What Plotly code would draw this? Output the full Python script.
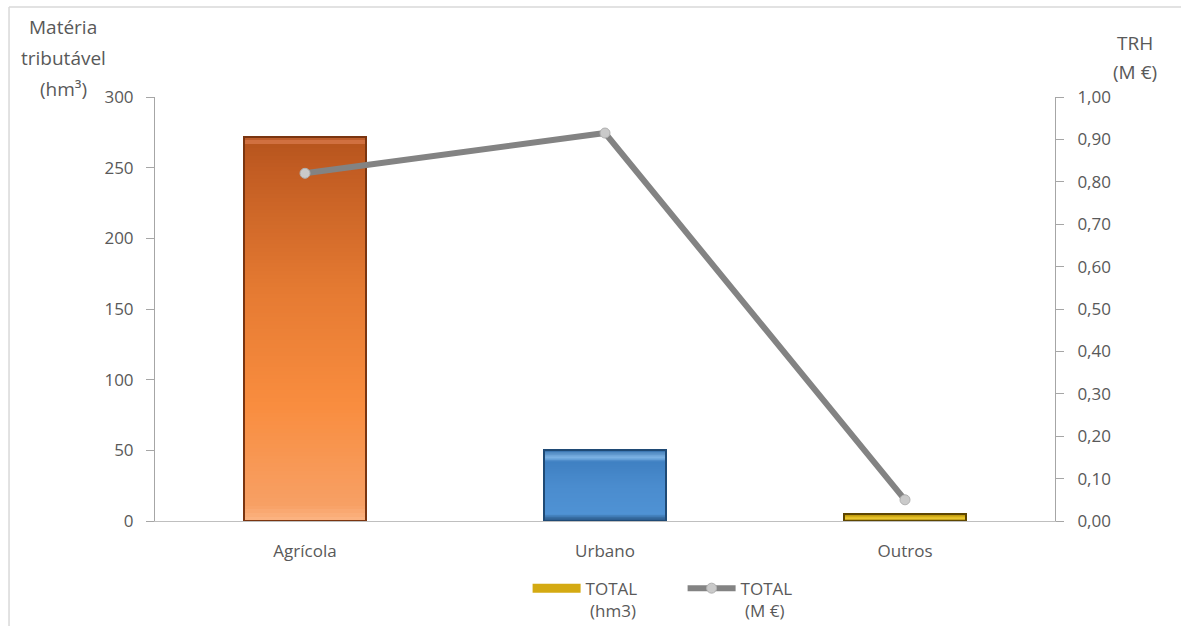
import plotly.graph_objects as go

# Categories and values
categories = ["Agrícola", "Urbano", "Outros"]
materia_hm3 = [272, 50, 5]          # TOTAL (hm3), left axis
trh_meur = [0.82, 0.915, 0.05]      # TOTAL (M €), right axis

# Vertical colour ramps per bar (fraction from base -> colour)
ramps = [
    [(0.0, "#fcb584"), (0.04, "#f7a065"), (0.30, "#f98d3f"), (0.60, "#e57a32"),
     (0.92, "#c15c22"), (0.975, "#b8561e"), (0.985, "#d07040"), (1.0, "#b55420")],
    [(0.0, "#24507d"), (0.10, "#4f92d4"), (0.50, "#4a8cce"), (0.84, "#3f80c2"),
     (0.90, "#7fb5e6"), (1.0, "#3a75b0")],
    [(0.0, "#7a5c00"), (0.45, "#f0cc30"), (1.0, "#b08a00")],
]
edge_colors = ["#7a3510", "#1f4a75", "#5e4600"]


def hex_to_rgb(h):
    h = h.lstrip("#")
    return tuple(int(h[i:i + 2], 16) for i in (0, 2, 4))


def ramp_color(stops, t):
    for (t0, c0), (t1, c1) in zip(stops, stops[1:]):
        if t0 <= t <= t1:
            f = 0 if t1 == t0 else (t - t0) / (t1 - t0)
            a, b = hex_to_rgb(c0), hex_to_rgb(c1)
            r, g, bl = (round(a[k] + (b[k] - a[k]) * f) for k in range(3))
            return f"rgb({r},{g},{bl})"
    return stops[-1][1]


fig = go.Figure()

# Bars drawn as overlapping slices so each bar shows a vertical gradient
n_slices = 100
for i in range(n_slices):
    t = (i + 0.5) / n_slices
    bases = [v * i / n_slices for v in materia_hm3]
    heights = [min(3 * v / n_slices, v - b) for v, b in zip(materia_hm3, bases)]
    fig.add_trace(go.Bar(
        x=categories,
        y=heights,
        base=bases,
        marker=dict(color=[ramp_color(r, t) for r in ramps], line=dict(width=0)),
        width=0.405,
        showlegend=False,
        hoverinfo="skip",
    ))

# Outline of each full bar
fig.add_trace(go.Bar(
    x=categories,
    y=materia_hm3,
    marker=dict(color="rgba(0,0,0,0)", line=dict(color=edge_colors, width=2)),
    width=0.405,
    showlegend=False,
    name="TOTAL (hm3)",
))

# Legend entry for the bars
fig.add_trace(go.Scatter(
    x=[None], y=[None], mode="lines",
    line=dict(color="#d4aa12", width=9),
    name="TOTAL<br> (hm3)",
))

# TRH line on the secondary axis
fig.add_trace(go.Scatter(
    x=categories,
    y=trh_meur,
    yaxis="y2",
    mode="lines+markers",
    line=dict(color="#838383", width=6),
    marker=dict(size=10, color="#cacaca", line=dict(color="#b0b0b0", width=1)),
    name="TOTAL<br> (M €)",
))

family = "Open Sans, Noto Sans, sans-serif"
tick_font = dict(family=family, size=17, color="#595959")
title_font = dict(family=family, size=19, color="#595959")

fig.update_layout(
    width=1181,
    height=626,
    margin=dict(l=155, r=126, t=97, b=105, autoexpand=False),
    paper_bgcolor="white",
    plot_bgcolor="white",
    barmode="overlay",
    bargap=0,
    separators=",.",
    showlegend=True,
    legend=dict(
        orientation="h",
        x=0.414, xanchor="left",
        y=-0.117, yanchor="top",
        font=dict(family=family, size=17, color="#595959"),
        itemwidth=48,
        entrywidth=92,
        valign="top",
        traceorder="normal",
    ),
    xaxis=dict(
        showline=True, linecolor="#bfbfbf", linewidth=1,
        ticks="", showgrid=False, zeroline=False,
        tickfont=tick_font, ticklabelstandoff=15,
    ),
    yaxis=dict(
        range=[0, 300], dtick=50,
        showline=True, linecolor="#a6a6a6", linewidth=1,
        ticks="outside", ticklen=8, tickcolor="#a6a6a6",
        showgrid=False, zeroline=False,
        tickfont=tick_font, ticklabelstandoff=9,
    ),
    yaxis2=dict(
        range=[0, 1], dtick=0.1, tickformat=".2f",
        overlaying="y", side="right",
        showline=True, linecolor="#a6a6a6", linewidth=1,
        ticks="outside", ticklen=8, tickcolor="#a6a6a6",
        showgrid=False, zeroline=False,
        tickfont=tick_font, ticklabelstandoff=10,
    ),
)

# Axis titles
left_title = [("Matéria", 1.165), ("tributável", 1.092), ("(hm³)", 1.02)]
for text, yy in left_title:
    fig.add_annotation(text=text, xref="paper", yref="paper", x=-0.102, y=yy,
                       showarrow=False, font=title_font, xanchor="center", yanchor="middle")
right_title = [("TRH", 1.127), ("(M €)", 1.06)]
for text, yy in right_title:
    fig.add_annotation(text=text, xref="paper", yref="paper", x=1.089, y=yy,
                       showarrow=False, font=title_font, xanchor="center", yanchor="middle")

# Chart frame (left and top edges)
fig.add_shape(type="line", xref="paper", yref="paper", x0=-0.1622, x1=-0.1622, y0=1.2123, y1=-0.26,
              line=dict(color="#d9d9d9", width=1.5))
fig.add_shape(type="line", xref="paper", yref="paper", x0=-0.1622, x1=1.15, y0=1.2123, y1=1.2123,
              line=dict(color="#d9d9d9", width=1.5))

fig.write_html("out.html")
